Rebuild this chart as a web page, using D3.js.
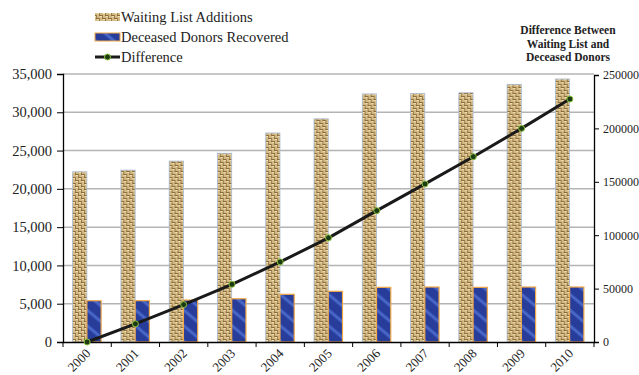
<!DOCTYPE html>
<meta charset="utf-8">
<style>
  body { margin: 0; background: #fff; }
  text { font-family: 'Liberation Serif', 'Times New Roman', serif; fill: #222; }
</style>
<svg width="639" height="375"></svg>
<script src="https://cdn.jsdelivr.net/npm/d3@7"></script>
<script>
var years = ["2000","2001","2002","2003","2004","2005","2006","2007","2008","2009","2010"];
var waitingAdditions = [22230, 22450, 23630, 24650, 27300, 29150, 32400, 32450, 32550, 33650, 34350];
var donorsRecovered = [5390, 5400, 5480, 5650, 6230, 6620, 7140, 7180, 7140, 7180, 7180];
var difference = [0, 17000, 35000, 54000, 75000, 97500, 123000, 148000, 173500, 200000, 227500];
var leftTicks = [0, 5000, 10000, 15000, 20000, 25000, 30000, 35000];
var rightTicks = [0, 50000, 100000, 150000, 200000, 250000];

var svg = d3.select("svg");
var plotLeft = 63, plotRight = 594, plotTop = 74, plotBottom = 342;

var defs = svg.append("defs");

// burlap-like weave for the waiting list bars
var weave = defs.append("pattern")
    .attr("id", "weave")
    .attr("patternUnits", "userSpaceOnUse")
    .attr("width", 6).attr("height", 6);
weave.append("rect").attr("width", 6).attr("height", 6).attr("fill", "#d4bb86");
weave.append("rect").attr("x", 0).attr("y", 0).attr("width", 3).attr("height", 1).attr("fill", "#8a6a38");
weave.append("rect").attr("x", 3).attr("y", 3).attr("width", 3).attr("height", 1).attr("fill", "#8a6a38");
weave.append("rect").attr("x", 3).attr("y", 0).attr("width", 1).attr("height", 3).attr("fill", "#9c7c48");
weave.append("rect").attr("x", 0).attr("y", 3).attr("width", 1).attr("height", 3).attr("fill", "#9c7c48");
weave.append("rect").attr("x", 1).attr("y", 1).attr("width", 2).attr("height", 1).attr("fill", "#f1e3bc");
weave.append("rect").attr("x", 4).attr("y", 4).attr("width", 2).attr("height", 1).attr("fill", "#f1e3bc");

// diagonal sheen for the donor bars
var sheen = defs.append("pattern")
    .attr("id", "sheen")
    .attr("patternUnits", "userSpaceOnUse")
    .attr("width", 12).attr("height", 12)
    .attr("patternTransform", "rotate(-50)");
sheen.append("rect").attr("width", 12).attr("height", 12).attr("fill", "#283c9a");
sheen.append("rect").attr("x", 4).attr("width", 4).attr("height", 12).attr("fill", "#3651b4");
sheen.append("rect").attr("x", 5).attr("width", 2).attr("height", 12).attr("fill", "#4a68c6");

var x = d3.scaleBand().domain(years).range([plotLeft, plotRight]);
var xs = d3.scaleBand().domain(["wait", "donor"])
    .range([x.bandwidth() / 2 - 14.5, x.bandwidth() / 2 + 14]);
var y = d3.scaleLinear().domain([0, 35000]).range([plotBottom, plotTop]);
var y2 = d3.scaleLinear().domain([0, 250000]).range([plotBottom, 75]);

// gridlines
svg.append("g")
    .selectAll("line")
    .data(leftTicks.slice(1))
    .join("line")
    .attr("x1", plotLeft).attr("x2", plotRight)
    .attr("y1", function(d) { return y(d); })
    .attr("y2", function(d) { return y(d); })
    .attr("stroke", "#b4b4b4")
    .attr("stroke-width", 1.5);

var groups = svg.append("g")
    .selectAll("g")
    .data(years)
    .join("g")
    .attr("transform", function(d) { return "translate(" + x(d) + ",0)"; });

groups.append("rect")
    .attr("x", xs("wait"))
    .attr("width", xs.bandwidth())
    .attr("y", function(d, i) { return y(waitingAdditions[i]); })
    .attr("height", function(d, i) { return plotBottom - y(waitingAdditions[i]); })
    .attr("fill", "url(#weave)")
    .attr("stroke", "#a9bdd8")
    .attr("stroke-width", 0.8);

groups.append("rect")
    .attr("x", xs("donor"))
    .attr("width", xs.bandwidth())
    .attr("y", function(d, i) { return y(donorsRecovered[i]); })
    .attr("height", function(d, i) { return plotBottom - y(donorsRecovered[i]); })
    .attr("fill", "url(#sheen)")
    .attr("stroke", "#f0a848")
    .attr("stroke-width", 1.2);

// axes
var fmt = d3.format(",");
var yAxis = svg.append("g")
    .attr("transform", "translate(" + plotLeft + ",0)")
    .call(d3.axisLeft(y).tickValues(leftTicks).tickFormat(function(d) { return d === 0 ? "0" : fmt(d); }).tickSize(6).tickPadding(5));
yAxis.selectAll("text").style("font-size", "14.5px").attr("fill", "#222");

var y2Axis = svg.append("g")
    .attr("transform", "translate(" + plotRight + ",0)")
    .call(d3.axisRight(y2).tickValues(rightTicks).tickFormat(d3.format("d")).tickSize(5).tickPadding(4));
y2Axis.selectAll("text").style("font-size", "12px").attr("fill", "#222");

var xAxis = svg.append("g")
    .attr("transform", "translate(0," + plotBottom + ")")
    .call(d3.axisBottom(x).tickSize(0).tickPadding(0));
xAxis.selectAll("text")
    .style("font-size", "13px")
    .attr("fill", "#222")
    .attr("text-anchor", "end")
    .attr("transform", "translate(1,9) rotate(-45)")
    .attr("dy", "0.35em")
    .attr("y", 0);

// category boundary ticks
svg.append("g")
    .selectAll("line")
    .data(years.concat(["end"]))
    .join("line")
    .attr("x1", function(d, i) { return plotLeft + i * x.step(); })
    .attr("x2", function(d, i) { return plotLeft + i * x.step(); })
    .attr("y1", plotBottom).attr("y2", plotBottom + 5)
    .attr("stroke", "#000");

svg.selectAll(".domain").attr("stroke", "#000").attr("stroke-width", 1.3);
svg.selectAll(".tick line").attr("stroke", "#000");

// difference line
var line = d3.line()
    .x(function(d, i) { return x(years[i]) + x.bandwidth() / 2; })
    .y(function(d) { return y2(d); });

svg.append("path")
    .datum(difference)
    .attr("fill", "none")
    .attr("stroke", "#1a1a1a")
    .attr("stroke-width", 3)
    .attr("d", line);

svg.append("g")
    .selectAll("circle")
    .data(difference)
    .join("circle")
    .attr("cx", function(d, i) { return x(years[i]) + x.bandwidth() / 2; })
    .attr("cy", function(d) { return y2(d); })
    .attr("r", 3)
    .attr("fill", "#1e3a14")
    .attr("stroke", "#8ac43c")
    .attr("stroke-width", 1);

// legend
var legend = svg.append("g");
legend.append("rect").attr("x", 95).attr("y", 13).attr("width", 25).attr("height", 8).attr("fill", "url(#weave)");
legend.append("rect").attr("x", 95).attr("y", 33).attr("width", 25).attr("height", 8)
    .attr("fill", "url(#sheen)").attr("stroke", "#f0a848").attr("stroke-width", 1);
legend.append("line").attr("x1", 95).attr("x2", 120).attr("y1", 57).attr("y2", 57)
    .attr("stroke", "#1a1a1a").attr("stroke-width", 3);
legend.append("circle").attr("cx", 107.5).attr("cy", 57).attr("r", 3)
    .attr("fill", "#1e3a14").attr("stroke", "#8ac43c");
var labels = ["Waiting List Additions", "Deceased Donors Recovered", "Difference"];
legend.selectAll("text.lab")
    .data(labels)
    .join("text")
    .attr("class", "lab")
    .attr("x", 121)
    .attr("y", function(d, i) { return 22 + i * 20; })
    .style("font-size", "14.5px")
    .text(function(d) { return d; });

// right axis title
var titleLines = ["Difference Between", "Waiting List and", "Deceased Donors"];
svg.append("g")
    .selectAll("text")
    .data(titleLines)
    .join("text")
    .attr("x", 568)
    .attr("y", function(d, i) { return 34 + i * 13.5; })
    .attr("text-anchor", "middle")
    .style("font-size", "11.5px")
    .style("font-weight", "bold")
    .text(function(d) { return d; });
</script>
